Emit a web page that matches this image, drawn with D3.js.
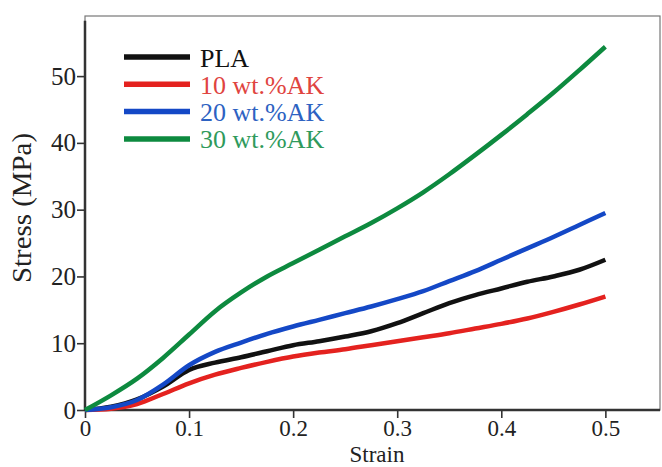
<!DOCTYPE html>
<html>
<head>
<meta charset="utf-8">
<script src="https://cdn.jsdelivr.net/npm/d3@7"></script>
<style>
  body { margin: 0; background: #fff; }
  text { font-family: "Liberation Serif", "Times New Roman", Times, serif; }
</style>
</head>
<body>
<script>
  // strain values shared by every curve
  const strain = [0, 0.025, 0.05, 0.075, 0.1, 0.125, 0.15, 0.175, 0.2, 0.225, 0.25,
                  0.275, 0.3, 0.325, 0.35, 0.375, 0.4, 0.425, 0.45, 0.475, 0.5];
  const pla   = [0, 0.5, 1.6, 3.5, 6.0, 7.1, 7.9, 8.8, 9.7, 10.3, 11.0, 11.8, 13.0, 14.5, 16.0, 17.2, 18.2, 19.2, 20.0, 21.0, 22.5];
  const ak10  = [0, 0.2, 0.9, 2.4, 4.0, 5.3, 6.3, 7.2, 8.0, 8.6, 9.1, 9.7, 10.3, 10.9, 11.5, 12.2, 12.9, 13.7, 14.7, 15.8, 17.0];
  const ak20  = [0, 0.4, 1.5, 3.8, 6.7, 8.7, 10.1, 11.4, 12.5, 13.5, 14.5, 15.5, 16.6, 17.8, 19.3, 20.8, 22.5, 24.2, 25.9, 27.7, 29.5];
  const ak30  = [0, 2.2, 4.7, 7.8, 11.3, 14.8, 17.6, 20.0, 22.0, 24.0, 26.0, 28.0, 30.2, 32.6, 35.3, 38.2, 41.2, 44.3, 47.5, 50.9, 54.4];

  const seriesNames = ["PLA", "10 wt.%AK", "20 wt.%AK", "30 wt.%AK"];
  const lineColors  = ["#111111", "#e4221f", "#1448c6", "#0d8a3f"];
  const textColors  = ["#111111", "#e0443f", "#2d62c2", "#2f9a5c"];

  const xTicks = [0, 0.1, 0.2, 0.3, 0.4, 0.5];
  const yTicks = [0, 10, 20, 30, 40, 50];

  const W = 662, H = 467;
  const margin = {top: 16, right: 2, bottom: 57, left: 85};
  const serif = "'Liberation Serif', 'Times New Roman', Times, serif";

  const svg = d3.select("body").append("svg")
      .attr("width", W).attr("height", H);

  const x = d3.scaleLinear().domain([0, 0.5525]).range([margin.left, W - margin.right]);
  const y = d3.scaleLinear().domain([0, 59]).range([H - margin.bottom, margin.top]);

  // thin frame around plot
  svg.append("rect")
      .attr("x", x(0)).attr("y", y(59))
      .attr("width", x(0.5525) - x(0)).attr("height", y(0) - y(59))
      .attr("fill", "none").attr("stroke", "#777").attr("stroke-width", 1.2);

  // minor + major ticks
  const gx = svg.append("g").attr("transform", "translate(0," + y(0) + ")");
  gx.call(d3.axisBottom(x).tickValues(d3.range(0, 0.56, 0.05)).tickSize(6).tickFormat(""));
  gx.call(d3.axisBottom(x).tickValues(xTicks).tickSize(8).tickFormat(d => d === 0 ? "0" : d3.format(".1f")(d)).tickPadding(2));
  gx.select(".domain").remove();
  gx.append("line").attr("x1", x(0)).attr("x2", x(0.5525)).attr("stroke", "#333").attr("stroke-width", 2.5);

  const gy = svg.append("g").attr("transform", "translate(" + x(0) + ",0)");
  gy.call(d3.axisLeft(y).tickValues(d3.range(0, 56, 5)).tickSize(6).tickFormat(""));
  gy.call(d3.axisLeft(y).tickValues(yTicks).tickSize(8).tickPadding(1));
  gy.select(".domain").remove();
  gy.append("line").attr("y1", y(0)).attr("y2", y(58.3)).attr("stroke", "#333").attr("stroke-width", 2.5);

  svg.selectAll("g").attr("font-family", serif);
  svg.selectAll(".tick line").attr("stroke", "#333").attr("stroke-width", 1.6);
  gy.selectAll(".tick text")
      .attr("fill", "#222")
      .style("font-family", serif)
      .style("font-size", "25px");
  gx.selectAll(".tick text")
      .attr("fill", "#222")
      .style("font-family", serif)
      .style("font-size", "23px");

  // axis titles
  svg.append("text")
      .attr("x", 377).attr("y", 462)
      .attr("text-anchor", "middle")
      .attr("font-size", 23).attr("fill", "#222")
      .text("Strain");

  svg.append("text")
      .attr("transform", "translate(31,208) rotate(-90)")
      .attr("text-anchor", "middle")
      .attr("font-size", 27).attr("fill", "#222")
      .attr("textLength", 150).attr("lengthAdjust", "spacingAndGlyphs")
      .text("Stress (MPa)");

  // curves
  const allSeries = [pla, ak10, ak20, ak30];
  const line = d3.line()
      .x((d, i) => x(strain[i]))
      .y(d => y(d))
      .curve(d3.curveMonotoneX);

  svg.selectAll("path.curve")
    .data(allSeries)
    .enter().append("path")
      .attr("class", "curve")
      .attr("d", line)
      .attr("fill", "none")
      .attr("stroke", (d, i) => lineColors[i])
      .attr("stroke-width", 4.5);

  // legend
  const legend = svg.append("g").attr("transform", "translate(124,57)");
  const items = legend.selectAll("g")
    .data(seriesNames)
    .enter().append("g")
      .attr("transform", (d, i) => "translate(0," + i * 27.3 + ")");
  items.append("line")
      .attr("x1", 0).attr("x2", 66)
      .attr("stroke", (d, i) => lineColors[i])
      .attr("stroke-width", 5.5);
  items.append("text")
      .attr("x", 76).attr("y", 9.5)
      .attr("font-size", 26)
      .attr("fill", (d, i) => textColors[i])
      .text(d => d);
</script>
</body>
</html>
